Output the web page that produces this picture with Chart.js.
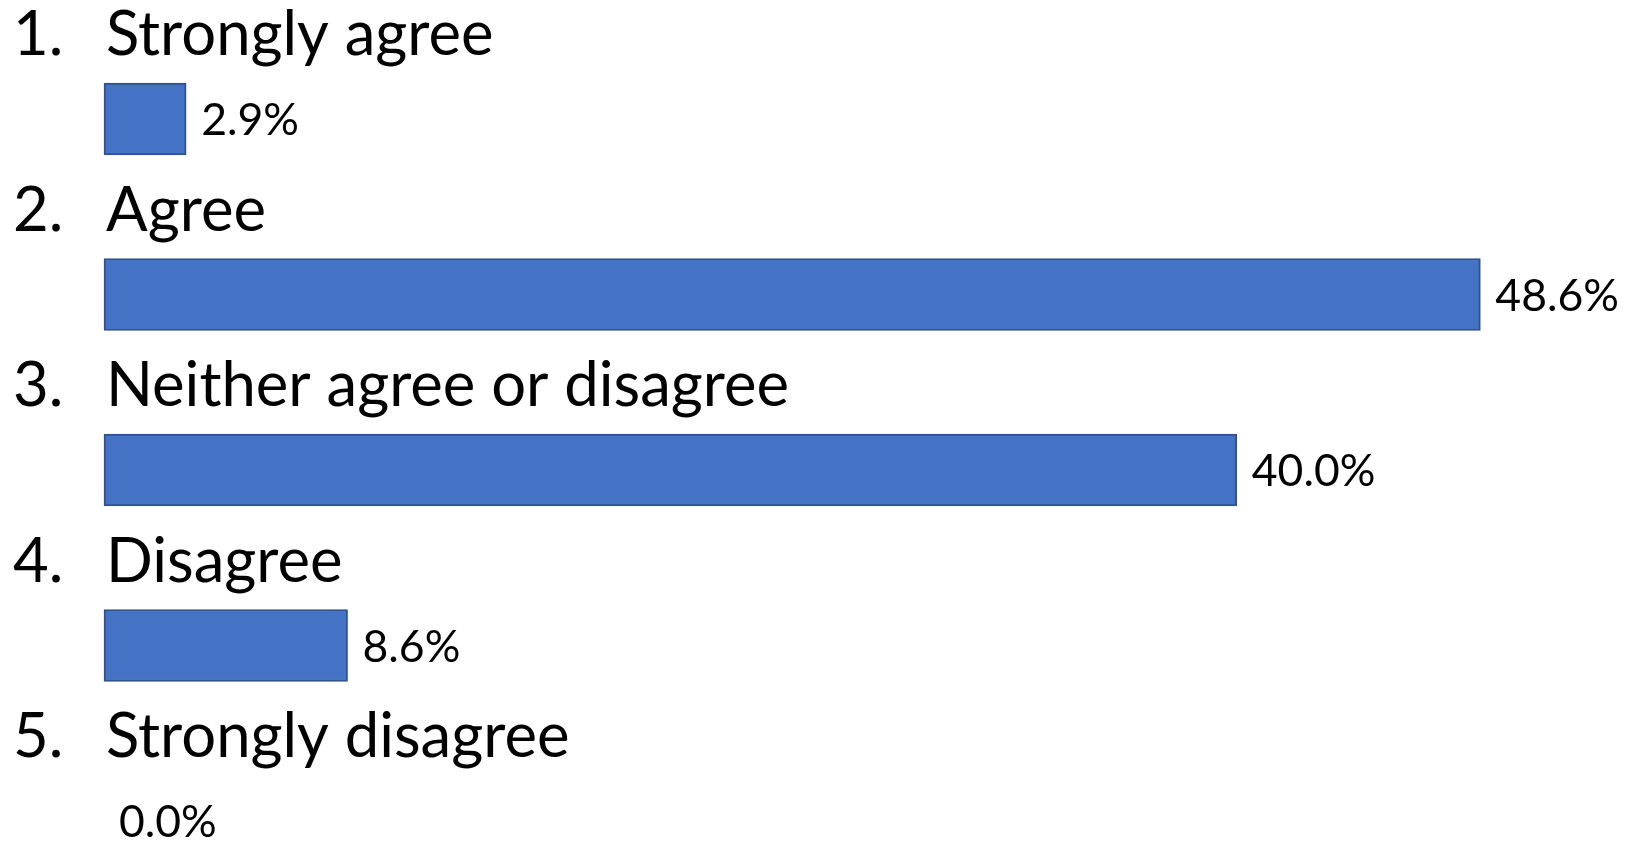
<!DOCTYPE html>
<html>
<head>
<meta charset="utf-8">
<script src="https://cdn.jsdelivr.net/npm/chart.js@4/dist/chart.umd.min.js"></script>
<style>
html,body{margin:0;padding:0;background:#fff;}
#wrap{width:1642px;height:851px;position:relative;}
</style>
</head>
<body>
<div id="wrap"><canvas id="c" width="1642" height="851"></canvas></div>
<script>
const categories = ["Strongly agree", "Agree", "Neither agree or disagree", "Disagree", "Strongly disagree"];
const values = [2.9, 48.6, 40.0, 8.6, 0.0];
const valueLabels = ["2.9%", "48.6%", "40.0%", "8.6%", "0.0%"];

const CAT_FONT = "61.6px Lato";
const VAL_FONT = "44.5px Lato";

const labelPlugin = {
  id: 'labelPlugin',
  afterDatasetsDraw(chart) {
    const ctx = chart.ctx;
    const meta = chart.getDatasetMeta(0);
    const xs = chart.scales.x;
    const x0 = xs.getPixelForValue(0);
    ctx.save();
    meta.data.forEach((bar, i) => {
      ctx.font = VAL_FONT;
      ctx.fillStyle = '#000';
      ctx.textAlign = 'left';
      ctx.textBaseline = 'middle';
      ctx.fillText(valueLabels[i], bar.x + 15, bar.y + 2);
      ctx.font = CAT_FONT;
      ctx.textBaseline = 'alphabetic';
      ctx.fillText((i + 1) + '.', 13, bar.y - 64);
      ctx.fillText(categories[i], x0 + 2, bar.y - 64);
    });
    ctx.restore();
  }
};

new Chart(document.getElementById('c'), {
  type: 'bar',
  data: {
    labels: categories,
    datasets: [{
      data: values,
      backgroundColor: '#4472C4',
      borderColor: '#2F528F',
      borderWidth: 2,
      borderSkipped: false,
      barThickness: 72,
      clip: false
    }]
  },
  options: {
    indexAxis: 'y',
    responsive: false,
    animation: false,
    layout: { padding: { left: 104, right: 122, top: 119, bottom: 30 } },
    scales: {
      x: { display: false, min: 0, max: 50 },
      y: { display: false, offset: false }
    },
    plugins: { legend: { display: false }, tooltip: { enabled: false } }
  },
  plugins: [labelPlugin]
});
</script>
</body>
</html>
